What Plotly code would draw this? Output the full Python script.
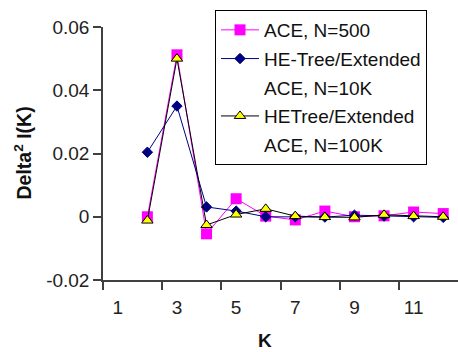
import plotly.graph_objects as go

K = [2, 3, 4, 5, 6, 7, 8, 9, 10, 11, 12]
ace_500 = [0.0000, 0.0512, -0.0054, 0.0057, 0.0002, -0.0010, 0.0018, 0.0000, 0.0003, 0.0015, 0.0010]
he_tree_10k = [0.0204, 0.0350, 0.0031, 0.0018, 0.0000, 0.0000, -0.0001, 0.0005, 0.0002, 0.0000, -0.0002]
he_tree_100k = [-0.0012, 0.0500, -0.0026, 0.0007, 0.0025, 0.0002, -0.0001, -0.0002, 0.0006, 0.0002, 0.0000]

x_label_vals = [1, 3, 5, 7, 9, 11]
x_label_text = ["1", "3", "5", "7", "9", "11"]
x_tick_marks = [0.5, 2.5, 4.5, 6.5, 8.5, 10.5]
y_tick_vals = [-0.02, 0, 0.02, 0.04, 0.06]
y_tick_text = ["-0.02", "0", "0.02", "0.04", "0.06"]

FONT = "Liberation Sans, Arial, sans-serif"

fig = go.Figure()
fig.add_trace(go.Scatter(
    x=K, y=ace_500, name="ACE, N=500", mode="lines+markers",
    line=dict(color="#FF00FF", width=1),
    marker=dict(symbol="square", size=11, color="#FF00FF", line=dict(width=0)),
    legendgroup="a", cliponaxis=False))
fig.add_trace(go.Scatter(
    x=K, y=he_tree_10k, name="HE-Tree/Extended", mode="lines+markers",
    line=dict(color="#000080", width=1),
    marker=dict(symbol="diamond", size=8, color="#000080", line=dict(width=1, color="#000080")),
    legendgroup="b", cliponaxis=False))
fig.add_trace(go.Scatter(
    x=[None], y=[None], name="ACE, N=10K", mode="lines",
    line=dict(color="rgba(0,0,0,0)", width=0), legendgroup="c", hoverinfo="skip"))
fig.add_trace(go.Scatter(
    x=K, y=he_tree_100k, name="HETree/Extended", mode="lines+markers",
    line=dict(color="#000000", width=1),
    marker=dict(symbol="triangle-up", size=10, color="#FFFF00", line=dict(width=1, color="#000000")),
    legendgroup="d", cliponaxis=False))
fig.add_trace(go.Scatter(
    x=[None], y=[None], name="ACE, N=100K", mode="lines",
    line=dict(color="rgba(0,0,0,0)", width=0), legendgroup="e", hoverinfo="skip"))

fig.update_layout(
    width=458, height=352,
    margin=dict(l=103, r=0, t=27, b=72, pad=0),
    paper_bgcolor="white", plot_bgcolor="white",
    font=dict(family=FONT, size=19, color="#222222"),
    showlegend=True,
    legend=dict(
        x=(215 - 103) / 355, y=(280 - 10) / 253, xanchor="left", yanchor="top",
        bordercolor="#000000", borderwidth=1, bgcolor="white",
        font=dict(family=FONT, size=19, color="#111111"),
        traceorder="grouped", tracegroupgap=1, itemwidth=38,
    ),
    xaxis=dict(
        range=[0.5, 12.5], showgrid=False, zeroline=False,
        showline=True, linecolor="#404040", linewidth=1.5,
        tickmode="array", tickvals=x_label_vals, ticktext=x_label_text,
        ticks="outside", ticklen=9, tickcolor="rgba(0,0,0,0)",
        minor=dict(tickmode="array", tickvals=x_tick_marks, ticks="outside",
                   ticklen=8, tickwidth=1.5, tickcolor="#404040", showgrid=False),
        tickfont=dict(size=19),
    ),
    yaxis=dict(
        range=[-0.02, 0.06], showgrid=False, zeroline=False,
        showline=True, linecolor="#404040", linewidth=1.5,
        tickmode="array", tickvals=y_tick_vals, ticktext=y_tick_text,
        ticks="outside", ticklen=8, tickwidth=1.5, tickcolor="#404040",
        tickfont=dict(size=19),
    ),
    annotations=[
        dict(text="<b>Delta<sup>2</sup> I(K)</b>", xref="paper", yref="paper",
             x=(22 - 103) / 355, y=0.5, xanchor="center", yanchor="middle",
             textangle=-90, showarrow=False, font=dict(size=19.5, color="#111111")),
        dict(text="<b>K</b>", xref="paper", yref="paper",
             x=(265 - 103) / 355, y=(280 - 340) / 253, xanchor="center", yanchor="middle",
             showarrow=False, font=dict(size=19, color="#111111")),
    ],
)

fig.write_html("out.html")
